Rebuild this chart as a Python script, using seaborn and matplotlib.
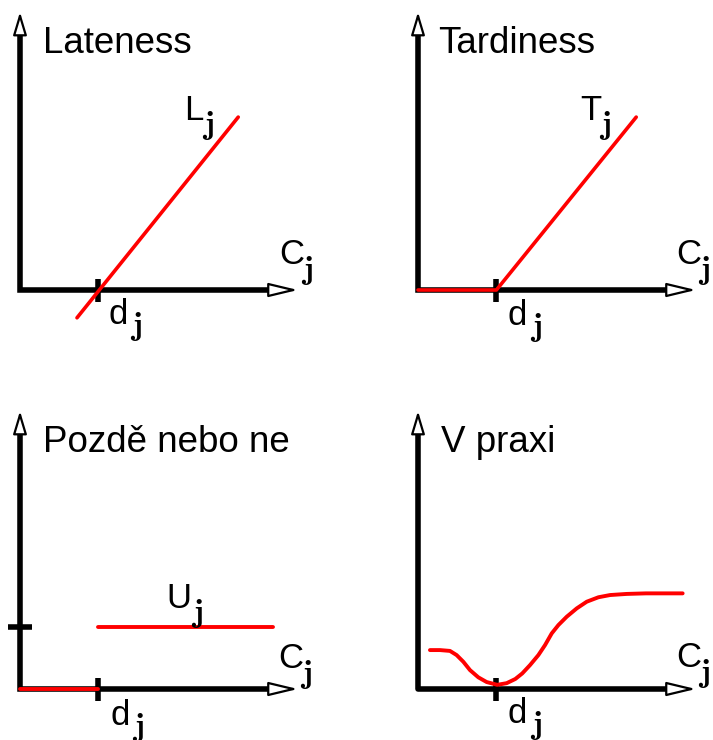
import numpy as np
import pandas as pd
import matplotlib
matplotlib.use("Agg")
import matplotlib.pyplot as plt
import seaborn as sns

sns.set_theme(style="white")
plt.rcParams["font.family"] = ["Liberation Sans", "DejaVu Sans"]
plt.rcParams["mathtext.fontset"] = "cm"

# ---------------- data ----------------
titles = ["Lateness", "Tardiness", "Pozdě nebo ne", "V praxi"]
axis_len = 10.0          # length of both axes (to arrow tip)
due = 2.82               # due date d_j on the C_j axis

# Lateness L_j = C_j - d_j
late_c = [2.05, 7.85]
late_v = [-1.0, 6.22]
# Tardiness T_j = max(0, C_j - d_j)
tard_c = [0.0, 2.82, 7.85]
tard_v = [0.0, 0.0, 6.22]
# Unit penalty U_j
unit_level = 2.23
unit_early_c = [0.0, 2.82]
unit_early_v = [0.0, 0.0]
unit_late_c = [2.82, 9.1]
unit_late_v = [2.23, 2.23]
# In practice
prax_c = [0.43, 0.79, 1.15, 1.39, 1.63, 1.87, 2.17, 2.47, 2.85, 3.19, 3.50,
          3.75, 4.03, 4.33, 4.57, 4.81, 5.05, 5.35, 5.71, 6.07, 6.49, 6.91,
          7.51, 8.20, 9.52]
prax_v = [1.40, 1.40, 1.37, 1.22, 0.98, 0.68, 0.42, 0.25, 0.15, 0.21, 0.36,
          0.56, 0.86, 1.22, 1.58, 2.00, 2.30, 2.60, 2.90, 3.14, 3.30, 3.38,
          3.42, 3.44, 3.44]

# ---------------- layout ----------------
W, H = 713, 740
S = 27.8  # pixels per data unit
fig = plt.figure(figsize=(W / 100, H / 100), dpi=100)
fig.patch.set_facecolor("white")

origins = [(20, 290), (418, 290), (20, 689), (418, 689)]
RED = "#ff0000"
FS_T = 26.5
FS_L = 25
FS_J = 23


def make_ax(ox, oy):
    ax = fig.add_axes([0, 0, 1, 1])
    ax.set_xlim(-ox / S, (W - ox) / S)
    ax.set_ylim(-(H - oy) / S, oy / S)
    ax.axis("off")
    ax.patch.set_alpha(0)
    return ax


def draw_axes(ax, ytick=None):
    hx = 0.9   # x arrow head length
    hy = 0.68  # y arrow head length
    ax.plot([0, 0, axis_len - hx], [axis_len - hy, 0, 0], color="black",
            lw=4, solid_joinstyle="miter", solid_capstyle="butt", zorder=2)
    ax.annotate("", xy=(axis_len, 0), xytext=(axis_len - hx, 0),
                arrowprops=dict(arrowstyle="-|>,head_length=1.0,head_width=0.24",
                                mutation_scale=18, fc="white", ec="black",
                                lw=1.6, shrinkA=0, shrinkB=0), zorder=2)
    ax.annotate("", xy=(0, axis_len), xytext=(0, axis_len - hy),
                arrowprops=dict(arrowstyle="-|>,head_length=1.0,head_width=0.3",
                                mutation_scale=14, fc="white", ec="black",
                                lw=1.6, shrinkA=0, shrinkB=0), zorder=2)
    ax.plot([due, due], [-0.42, 0.4], color="black", lw=4,
            solid_capstyle="butt", zorder=2)
    if ytick is not None:
        ax.plot([-0.43, 0.43], [ytick, ytick], color="black", lw=4,
                solid_capstyle="butt", zorder=2)


def label(ax, px, py, txt, jdx, jdy, fs=FS_L):
    ax.text(px / S, py / S, txt, fontsize=fs, ha="left", va="baseline",
            color="black", zorder=4)
    ax.text((px + jdx) / S, (py + jdy) / S, r"$\mathbf{j}$", fontsize=FS_J,
            ha="left", va="baseline", color="black", zorder=4)


axes = [make_ax(*o) for o in origins]
title_x = [23, 20, 23, 23]
for ax, t, tx in zip(axes, titles, title_x):
    ax.text(tx / S, 237 / S, t, fontsize=FS_T, ha="left", va="baseline",
            color="black")

# panel 1
ax = axes[0]
draw_axes(ax)
sns.lineplot(x=late_c, y=late_v, color=RED, lw=2.6, ax=ax, estimator=None,
             sort=False, zorder=3)
label(ax, 164, 170, "L", 18, -14)
label(ax, 259, 26, "C", 22, -15)
label(ax, 88, -34, "d", 22, -11)

# panel 2
ax = axes[1]
draw_axes(ax)
sns.lineplot(x=tard_c, y=tard_v, color=RED, lw=2.6, ax=ax, estimator=None,
             sort=False, zorder=3)
label(ax, 162, 170, "T", 19, -14)
label(ax, 258, 26, "C", 22, -15)
label(ax, 90, -35, "d", 22, -11)

# panel 3
ax = axes[2]
draw_axes(ax, ytick=unit_level)
sns.lineplot(x=unit_early_c, y=unit_early_v, color=RED, lw=2.8, ax=ax,
             estimator=None, sort=False, zorder=3)
sns.lineplot(x=unit_late_c, y=unit_late_v, color=RED, lw=2.8, ax=ax,
             estimator=None, sort=False, zorder=3)
label(ax, 146, 81, "U", 25, -14)
label(ax, 258, 21, "C", 22, -15)
label(ax, 90, -36, "d", 22, -11)

# panel 4
ax = axes[3]
draw_axes(ax)
sns.lineplot(x=prax_c, y=prax_v, color=RED, lw=2.8, ax=ax, estimator=None,
             sort=False, zorder=3)
for ln in ax.get_lines():
    ln.set_solid_joinstyle("round")
label(ax, 258, 22, "C", 22, -15)
label(ax, 90, -34, "d", 22, -11)

for a in axes:
    leg = a.get_legend()
    if leg is not None:
        leg.remove()

fig.savefig("out.png", dpi=100, facecolor="white")
